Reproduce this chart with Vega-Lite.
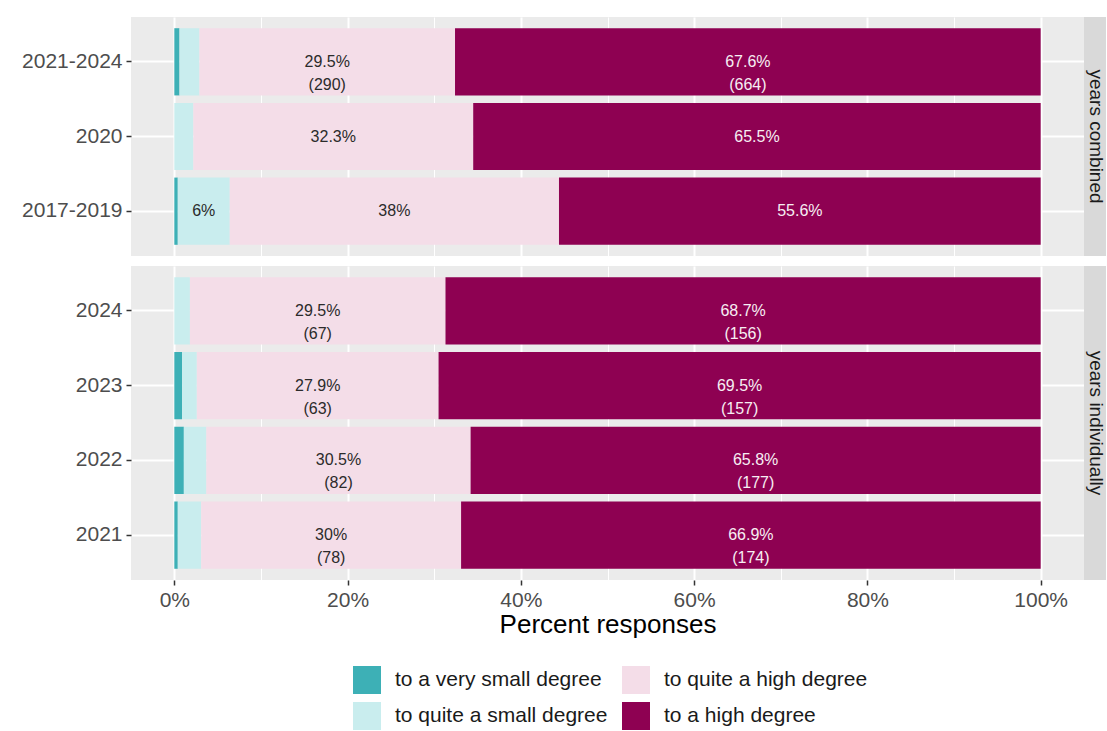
{
  "$schema": "https://vega.github.io/schema/vega-lite/v6.json",
  "background": "white",
  "padding": {"left": 21, "top": 17, "right": 0, "bottom": 0},
  "config": {
    "font": "Liberation Sans",
    "view": {"fill": "#EBEBEB", "stroke": null},
    "axis": {
      "labelFont": "Liberation Sans",
      "labelColor": "#4D4D4D",
      "labelFontSize": 21,
      "tickColor": "#333333",
      "tickSize": 5,
      "tickWidth": 1.5,
      "labelPadding": 4,
      "domain": false,
      "gridColor": "#FFFFFF",
      "gridWidth": 2,
      "titleFont": "Liberation Sans",
      "titleColor": "#000000",
      "titleFontWeight": "normal",
      "titleFontSize": 26
    }
  },
  "datasets": {
    "d": [
      {"panel": "years combined", "year": "2021-2024", "cat": "to a very small degree", "rank": 1, "pct": 0.6},
      {"panel": "years combined", "year": "2021-2024", "cat": "to quite a small degree", "rank": 2, "pct": 2.3},
      {"panel": "years combined", "year": "2021-2024", "cat": "to quite a high degree", "rank": 3, "pct": 29.5, "lab": ["29.5%", "(290)"]},
      {"panel": "years combined", "year": "2021-2024", "cat": "to a high degree", "rank": 4, "pct": 67.6, "lab": ["67.6%", "(664)"]},
      {"panel": "years combined", "year": "2020", "cat": "to a very small degree", "rank": 1, "pct": 0},
      {"panel": "years combined", "year": "2020", "cat": "to quite a small degree", "rank": 2, "pct": 2.2},
      {"panel": "years combined", "year": "2020", "cat": "to quite a high degree", "rank": 3, "pct": 32.3, "lab": "32.3%"},
      {"panel": "years combined", "year": "2020", "cat": "to a high degree", "rank": 4, "pct": 65.5, "lab": "65.5%"},
      {"panel": "years combined", "year": "2017-2019", "cat": "to a very small degree", "rank": 1, "pct": 0.4},
      {"panel": "years combined", "year": "2017-2019", "cat": "to quite a small degree", "rank": 2, "pct": 6.0, "lab": "6%"},
      {"panel": "years combined", "year": "2017-2019", "cat": "to quite a high degree", "rank": 3, "pct": 38.0, "lab": "38%"},
      {"panel": "years combined", "year": "2017-2019", "cat": "to a high degree", "rank": 4, "pct": 55.6, "lab": "55.6%"},
      {"panel": "years individually", "year": "2024", "cat": "to a very small degree", "rank": 1, "pct": 0},
      {"panel": "years individually", "year": "2024", "cat": "to quite a small degree", "rank": 2, "pct": 1.8},
      {"panel": "years individually", "year": "2024", "cat": "to quite a high degree", "rank": 3, "pct": 29.5, "lab": ["29.5%", "(67)"]},
      {"panel": "years individually", "year": "2024", "cat": "to a high degree", "rank": 4, "pct": 68.7, "lab": ["68.7%", "(156)"]},
      {"panel": "years individually", "year": "2023", "cat": "to a very small degree", "rank": 1, "pct": 0.9},
      {"panel": "years individually", "year": "2023", "cat": "to quite a small degree", "rank": 2, "pct": 1.7},
      {"panel": "years individually", "year": "2023", "cat": "to quite a high degree", "rank": 3, "pct": 27.9, "lab": ["27.9%", "(63)"]},
      {"panel": "years individually", "year": "2023", "cat": "to a high degree", "rank": 4, "pct": 69.5, "lab": ["69.5%", "(157)"]},
      {"panel": "years individually", "year": "2022", "cat": "to a very small degree", "rank": 1, "pct": 1.1},
      {"panel": "years individually", "year": "2022", "cat": "to quite a small degree", "rank": 2, "pct": 2.6},
      {"panel": "years individually", "year": "2022", "cat": "to quite a high degree", "rank": 3, "pct": 30.5, "lab": ["30.5%", "(82)"]},
      {"panel": "years individually", "year": "2022", "cat": "to a high degree", "rank": 4, "pct": 65.8, "lab": ["65.8%", "(177)"]},
      {"panel": "years individually", "year": "2021", "cat": "to a very small degree", "rank": 1, "pct": 0.4},
      {"panel": "years individually", "year": "2021", "cat": "to quite a small degree", "rank": 2, "pct": 2.7},
      {"panel": "years individually", "year": "2021", "cat": "to quite a high degree", "rank": 3, "pct": 30.0, "lab": ["30%", "(78)"]},
      {"panel": "years individually", "year": "2021", "cat": "to a high degree", "rank": 4, "pct": 66.9, "lab": ["66.9%", "(174)"]}
    ]
  },
  "spacing": 10,
  "vconcat": [
    {
      "spacing": 0,
      "hconcat": [
        {
          "width": 953,
          "height": 239,
          "data": {"name": "d"},
          "transform": [{"filter": "datum.panel === 'years combined'"}],
          "layer": [
            {
              "mark": {"type": "bar"},
              "encoding": {
                "y": {"field": "year", "type": "nominal", "sort": ["2021-2024", "2020", "2017-2019"], "scale": {"paddingInner": 0.1, "paddingOuter": 0.15}, "axis": {"title": null, "bandPosition": 0.5, "grid": true, "minExtent": 110}},
                "x": {"field": "pct", "type": "quantitative", "stack": "zero", "scale": {"domain": [-5, 105], "nice": false, "zero": false}, "axis": {"values": [0, 20, 40, 60, 80, 100], "labels": false, "ticks": false, "title": null, "grid": true}},
                "color": {
                  "field": "cat", "type": "nominal",
                  "scale": {"domain": ["to a very small degree", "to quite a high degree", "to quite a small degree", "to a high degree"], "range": ["#3DB0B6", "#F4DDE8", "#C9EDEE", "#8E0152"]},
                  "legend": {"title": null, "orient": "none", "legendX": 222, "legendY": 649, "direction": "horizontal", "columns": 2, "symbolType": "square", "symbolSize": 784, "symbolStrokeWidth": 0, "symbolOpacity": 1, "labelFontSize": 21, "labelColor": "#1A1A1A", "labelOffset": 14, "columnPadding": 14, "rowPadding": 8, "labelLimit": 400}
                },
                "order": {"field": "rank", "type": "quantitative"}
              }
            },
            {
              "transform": [
                {"stack": "pct", "groupby": ["year"], "sort": [{"field": "rank", "order": "ascending"}], "as": ["p0", "p1"]},
                {"calculate": "(datum.p0 + datum.p1) / 2", "as": "mid"},
                {"filter": "datum.lab != null"}
              ],
              "mark": {"type": "text", "fontSize": 16, "lineHeight": 23, "baseline": "middle", "align": "center"},
              "encoding": {
                "y": {"field": "year", "type": "nominal", "sort": ["2021-2024", "2020", "2017-2019"]},
                "x": {"field": "mid", "type": "quantitative", "scale": {"domain": [-5, 105], "nice": false, "zero": false}, "axis": {"orient": "top", "values": [10, 30, 50, 70, 90], "labels": false, "ticks": false, "domain": false, "title": null, "grid": true, "gridWidth": 1}},
                "text": {"field": "lab"},
                "color": {"condition": {"test": "datum.cat === 'to a high degree'", "value": "#F7EEF3"}, "value": "#2B2B2B"}
              }
            }
          ],
          "resolve": {"axis": {"x": "independent"}}
        },
        {
          "width": 22,
          "height": 239,
          "view": {"fill": "#D9D9D9", "stroke": null},
          "data": {"values": [{"strip": "years combined"}]},
          "mark": {"type": "text", "angle": 90, "fontSize": 19, "color": "#1A1A1A", "xOffset": 1, "baseline": "middle", "align": "center"},
          "encoding": {"text": {"field": "strip"}}
        }
      ]
    },
    {
      "spacing": 0,
      "hconcat": [
        {
          "width": 953,
          "height": 314,
          "data": {"name": "d"},
          "transform": [{"filter": "datum.panel === 'years individually'"}],
          "layer": [
            {
              "mark": {"type": "bar"},
              "encoding": {
                "y": {"field": "year", "type": "nominal", "sort": ["2024", "2023", "2022", "2021"], "scale": {"paddingInner": 0.1, "paddingOuter": 0.15}, "axis": {"title": null, "bandPosition": 0.5, "grid": true, "minExtent": 110}},
                "x": {"field": "pct", "type": "quantitative", "stack": "zero", "scale": {"domain": [-5, 105], "nice": false, "zero": false}, "axis": {"values": [0, 20, 40, 60, 80, 100], "labelExpr": "datum.value + '%'", "title": "Percent responses", "titlePadding": 1, "grid": true}},
                "color": {"field": "cat", "type": "nominal", "scale": {"domain": ["to a very small degree", "to quite a high degree", "to quite a small degree", "to a high degree"], "range": ["#3DB0B6", "#F4DDE8", "#C9EDEE", "#8E0152"]}},
                "order": {"field": "rank", "type": "quantitative"}
              }
            },
            {
              "transform": [
                {"stack": "pct", "groupby": ["year"], "sort": [{"field": "rank", "order": "ascending"}], "as": ["p0", "p1"]},
                {"calculate": "(datum.p0 + datum.p1) / 2", "as": "mid"},
                {"filter": "datum.lab != null"}
              ],
              "mark": {"type": "text", "fontSize": 16, "lineHeight": 23, "baseline": "middle", "align": "center"},
              "encoding": {
                "y": {"field": "year", "type": "nominal", "sort": ["2024", "2023", "2022", "2021"]},
                "x": {"field": "mid", "type": "quantitative", "scale": {"domain": [-5, 105], "nice": false, "zero": false}, "axis": {"orient": "top", "values": [10, 30, 50, 70, 90], "labels": false, "ticks": false, "domain": false, "title": null, "grid": true, "gridWidth": 1}},
                "text": {"field": "lab"},
                "color": {"condition": {"test": "datum.cat === 'to a high degree'", "value": "#F7EEF3"}, "value": "#2B2B2B"}
              }
            }
          ],
          "resolve": {"axis": {"x": "independent"}}
        },
        {
          "width": 22,
          "height": 314,
          "view": {"fill": "#D9D9D9", "stroke": null},
          "data": {"values": [{"strip": "years individually"}]},
          "mark": {"type": "text", "angle": 90, "fontSize": 19, "color": "#1A1A1A", "xOffset": 1, "baseline": "middle", "align": "center"},
          "encoding": {"text": {"field": "strip"}}
        }
      ]
    }
  ]
}
